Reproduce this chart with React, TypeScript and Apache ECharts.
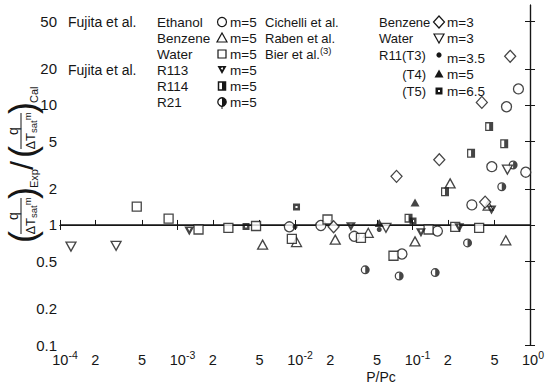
import React, { useEffect, useRef } from 'react';
import * as echarts from 'echarts';

const INK = '#161616';
const FONT = '"Liberation Sans", Arial, Helvetica, sans-serif';

// axis ranges and tick labels
const xRange = [1e-4, 1];
const yRange = [0.1, 68];
const xTickValues = [1e-4, 2e-4, 5e-4, 1e-3, 2e-3, 5e-3, 1e-2, 2e-2, 5e-2, 1e-1, 2e-1, 5e-1, 1];
const xDecadeTicks = [1e-4, 1e-3, 1e-2, 1e-1, 1];
const yTickValues = [0.1, 0.2, 0.5, 1, 2, 5, 10, 20, 50];
const refLine = [[1e-4, 1], [1, 1]];

// Fujita et al.
const ethanol = [[8.95e-3, 0.965], [1.66e-2, 0.99], [3.19e-2, 0.805], [8.13e-2, 0.573], [0.163, 0.89], [0.32, 1.47], [0.473, 3.06], [0.631, 9.66], [0.797, 13.6], [0.92, 2.75]];
const benzeneF = [[5.3e-3, 0.686], [1.03e-2, 0.72], [2.2e-2, 0.755], [4.2e-2, 0.86], [0.105, 0.73], [0.209, 2.22], [0.44, 1.45], [0.622, 0.745]];
const waterF = [[4.5e-4, 1.42], [8.4e-4, 1.13], [1.51e-3, 0.917], [2.71e-3, 0.947], [4.66e-3, 0.98], [9.4e-3, 0.766], [1.89e-2, 1.11], [3.64e-2, 0.78], [6.89e-2, 0.554], [0.137, 0.917], [0.231, 0.965], [0.369, 0.947]];
const r113 = [[1.26e-3, 0.89], [2.99e-2, 0.965], [0.118, 0.86], [0.25, 0.947], [0.47, 1.33]];
const r114 = [[9.25e-2, 1.14], [0.189, 1.89], [0.315, 3.95], [0.449, 6.6], [0.603, 4.75]];
const r21 = [[3.96e-2, 0.423], [7.7e-2, 0.376], [0.156, 0.401], [0.294, 0.709], [0.575, 2.08], [0.718, 3.16]];
// Cichelli et al. / Raben et al. / Bier et al.
const benzeneC = [[2.13e-2, 0.965], [7.31e-2, 2.54], [0.169, 3.5], [0.389, 10.5], [0.415, 1.55], [0.678, 25.4]];
const waterR = [[1.24e-4, 0.66], [3.0e-4, 0.67], [5.94e-2, 0.947], [0.642, 2.89]];
const r11T3 = [[1.0e-2, 0.965], [5.21e-2, 0.917]];
const r11T4 = [[5.21e-2, 1.04], [0.105, 1.54]];
const r11T5 = [[3.83e-3, 0.97], [1.03e-2, 1.41], [0.101, 1.08]];

const L = Math.log10;
const toLog = (pts: number[][]) => pts.map(([x, y]) => [L(x), L(y)]);

const HALF_CIRCLE = 'path://M10,0A10,10,0,1,1,10,20A10,10,0,1,1,10,0ZM10,2.8A7.2,7.2,0,1,0,10,17.2A7.2,7.2,0,1,0,10,2.8ZM10,0A10,10,0,0,1,10,20Z';
const HALF_SQUARE = 'path://M0,0H20V20H0ZM3,3V17H17V3ZM10,0H20V20H10Z';
const DOT_SQUARE = 'path://M0,0H20V20H0ZM7,7V13H13V7Z';
const HEAVY_DOWN = 'path://M0,0H20L10,18ZM7,3L10,9L13,3Z';

const openStyle = { color: '#fff', borderColor: INK, borderWidth: 1.3 };
const solidStyle = { color: INK, borderWidth: 0 };

function scatter(name: string, data: number[][], symbol: string, size: any, style: any, rotate = 0) {
  return {
    name, type: 'scatter', data: toLog(data), symbol, symbolSize: size, symbolRotate: rotate,
    itemStyle: style, z: 3, silent: true,
  };
}

const txt = (text: string, x: number, y: number, size = 13, align = 'left', extra: any = {}) => ({
  type: 'text', x, y, silent: true,
  style: { text, fill: INK, fontSize: size, fontFamily: FONT, textAlign: align, textVerticalAlign: 'middle', ...extra },
});

function legendSym(kind: string, cx: number, cy: number): any[] {
  const open = { fill: '#fff', stroke: INK, lineWidth: 1.2 };
  const solid = { fill: INK };
  switch (kind) {
    case 'circle': return [{ type: 'circle', shape: { cx, cy, r: 4.5 }, style: open }];
    case 'triUp': return [{ type: 'polygon', shape: { points: [[cx - 5, cy + 4], [cx + 5, cy + 4], [cx, cy - 5]] }, style: open }];
    case 'triDown': return [{ type: 'polygon', shape: { points: [[cx - 5, cy - 4], [cx + 5, cy - 4], [cx, cy + 5]] }, style: open }];
    case 'square': return [{ type: 'rect', shape: { x: cx - 4, y: cy - 4, width: 8, height: 8 }, style: open }];
    case 'diamond': return [{ type: 'polygon', shape: { points: [[cx, cy - 6], [cx + 5.5, cy], [cx, cy + 6], [cx - 5.5, cy]] }, style: open }];
    case 'heavyDown': return [
      { type: 'polygon', shape: { points: [[cx - 4.5, cy - 4], [cx + 4.5, cy - 4], [cx, cy + 4]] }, style: solid },
      { type: 'circle', shape: { cx, cy: cy - 1.5, r: 1 }, style: { fill: '#fff' } },
    ];
    case 'halfSquare': return [
      { type: 'rect', shape: { x: cx - 3.5, y: cy - 4, width: 7, height: 8 }, style: { fill: '#fff', stroke: INK, lineWidth: 1.5 } },
      { type: 'rect', shape: { x: cx, y: cy - 4, width: 3.5, height: 8 }, style: solid },
    ];
    case 'halfCircle': return [
      { type: 'circle', shape: { cx, cy, r: 4.2 }, style: { fill: '#fff', stroke: INK, lineWidth: 1.3 } },
      { type: 'sector', shape: { cx, cy, r: 4.2, r0: 0, startAngle: -Math.PI / 2, endAngle: Math.PI / 2, clockwise: true }, style: solid },
      { type: 'line', shape: { x1: cx, y1: cy + 4, x2: cx, y2: cy + 7 }, style: { stroke: INK, lineWidth: 1 } },
    ];
    case 'dot': return [{ type: 'circle', shape: { cx, cy, r: 2.6 }, style: solid }];
    case 'solidTri': return [{ type: 'polygon', shape: { points: [[cx - 4.5, cy + 3.5], [cx + 4.5, cy + 3.5], [cx, cy - 4.5]] }, style: solid }];
    case 'dotSquare': return [
      { type: 'rect', shape: { x: cx - 3.5, y: cy - 3.5, width: 7, height: 7 }, style: solid },
      { type: 'rect', shape: { x: cx - 1, y: cy - 1, width: 2, height: 2 }, style: { fill: '#fff' } },
    ];
  }
  return [];
}

const rows = [22, 38, 54, 70, 86, 102];

function buildGraphic(): any[] {
  const g: any[] = [];
  const FS = 13.5;
  // left legend block
  g.push(txt('Fujita et al.', 68, rows[0], 14));
  g.push(txt('Fujita et al.', 68, rows[3], 14));
  const leftNames = ['Ethanol', 'Benzene', 'Water', 'R113', 'R114', 'R21'];
  const leftSyms = ['circle', 'triUp', 'square', 'heavyDown', 'halfSquare', 'halfCircle'];
  leftNames.forEach((n, i) => {
    g.push(txt(n, 157, rows[i], FS));
    g.push(...legendSym(leftSyms[i], 222, rows[i]));
    g.push(txt('m=5', 230, rows[i], FS));
  });
  // middle authors
  g.push(txt('Cichelli et al.', 265, rows[0], 13));
  g.push(txt('Raben et al.', 265, rows[1], 13));
  g.push(txt('Bier et al.{sup|(3)}', 265, rows[2], 13, 'left', {
    rich: { sup: { fontSize: 9.5, fontFamily: FONT, fill: INK, verticalAlign: 'top', lineHeight: 17 } }, lineHeight: 17,
  }));
  // right block
  const rRows = [22, 38, 55, 74, 91];
  g.push(txt('Benzene', 379, rRows[0], 13));
  g.push(txt('Water', 379, rRows[1], 13));
  g.push(txt('R11(T3)', 379, rRows[2], 13));
  g.push(txt('(T4)', 426, rRows[3], 13, 'right'));
  g.push(txt('(T5)', 426, rRows[4], 13, 'right'));
  const rSyms = ['diamond', 'triDown', 'dot', 'solidTri', 'dotSquare'];
  const rM = ['m=3', 'm=3', 'm=3.5', 'm=5', 'm=6.5'];
  rSyms.forEach((s, i) => {
    g.push(...legendSym(s, 439, rRows[i]));
    g.push(txt(rM[i], 447, rRows[i] + (i === 2 ? 3 : 0), FS));
  });
  // x axis name
  g.push(txt('P/Pc', 381, 377, 14, 'center'));

  // rotated y-axis title
  const den = (cx: number) => ({
    type: 'text', x: cx, y: 9, silent: true,
    style: {
      text: 'ΔT{s|sat}{p|m}', fill: INK, fontSize: 13, fontFamily: FONT, textAlign: 'center', textVerticalAlign: 'middle', lineHeight: 16,
      rich: {
        s: { fontSize: 9.5, fontFamily: FONT, fill: INK, verticalAlign: 'bottom', lineHeight: 16 },
        p: { fontSize: 9.5, fontFamily: FONT, fill: INK, verticalAlign: 'top', lineHeight: 16 },
      },
    },
  });
  const frac = (x0: number, sub: string) => [
    txt('(', x0, 1, 36, 'left'),
    txt('q', x0 + 27, -8, 14, 'center'),
    { type: 'line', silent: true, shape: { x1: x0 + 9, y1: 0, x2: x0 + 45, y2: 0 }, style: { stroke: INK, lineWidth: 1 } },
    den(x0 + 27),
    txt(')', x0 + 44, 1, 36, 'left'),
    txt(sub, x0 + 55, 13, 11, 'left'),
  ];
  g.push({
    type: 'group', x: 21, y: 243, rotation: Math.PI / 2, silent: true,
    children: [
      ...frac(0, 'Exp'),
      txt('/', 73, 1, 32, 'left'),
      ...frac(85, 'Cal'),
    ],
  });
  return g;
}

export default function App() {
  const ref = useRef<HTMLDivElement>(null);
  useEffect(() => {
    if (!ref.current) return;
    const chart = echarts.init(ref.current, null, { renderer: 'svg' });
    const axisLine = { show: true, lineStyle: { color: INK, width: 1.2 } };
    const tickStyle = { color: INK, width: 1 };
    const xFormatter = (v: number) => {
      const r = Math.round(v);
      if (Math.abs(v - r) < 1e-6) return (r < 0 ? '{sp2| }' : '{sp1| }') + '{b|10}{sup|' + r + '}';
      return '{b|' + Math.round(Math.pow(10, v - Math.floor(v + 1e-9))) + '}';
    };
    const yFormatter = (v: number) => {
      const val = Math.pow(10, v);
      return val < 0.95 ? val.toFixed(1) : String(Math.round(val));
    };
    const option: any = {
      animation: false,
      backgroundColor: '#fff',
      grid: { left: 60, right: 16, top: 5, bottom: 41, containLabel: false },
      xAxis: [
        {
          type: 'value', min: L(xRange[0]), max: L(xRange[1]), position: 'bottom',
          axisLine, splitLine: { show: false },
          axisTick: { show: true, inside: true, length: 5, lineStyle: tickStyle, customValues: xTickValues.map(L) },
          axisLabel: {
            show: true, margin: 4, color: INK, fontFamily: FONT, fontSize: 14,
            customValues: xTickValues.map(L), formatter: xFormatter,
            rich: {
              b: { fontSize: 14.5, fontFamily: FONT, color: INK, lineHeight: 18, verticalAlign: 'bottom' },
              sup: { fontSize: 10.5, fontFamily: FONT, color: INK, lineHeight: 18, verticalAlign: 'top' },
              sp1: { width: 6, fontSize: 10, lineHeight: 18 },
              sp2: { width: 10, fontSize: 10, lineHeight: 18 },
            },
          },
        },
        {
          type: 'value', min: L(xRange[0]), max: L(xRange[1]), position: 'top',
          axisLine, splitLine: { show: false }, axisLabel: { show: false },
          axisTick: { show: true, inside: true, length: 5, lineStyle: tickStyle, customValues: xDecadeTicks.map(L) },
        },
      ],
      yAxis: [
        {
          type: 'value', min: L(yRange[0]), max: L(yRange[1]), position: 'left',
          axisLine, splitLine: { show: false },
          axisTick: { show: true, inside: true, length: 5, lineStyle: tickStyle, customValues: yTickValues.map(L) },
          axisLabel: {
            show: true, margin: 3, color: INK, fontFamily: FONT, fontSize: 15,
            customValues: yTickValues.map(L), formatter: yFormatter,
          },
        },
        {
          type: 'value', min: L(yRange[0]), max: L(yRange[1]), position: 'right',
          axisLine, splitLine: { show: false }, axisLabel: { show: false },
          axisTick: { show: true, inside: true, length: 5, lineStyle: tickStyle, customValues: yTickValues.map(L) },
        },
      ],
      series: [
        {
          name: 'ref', type: 'line', data: toLog(refLine), symbol: 'none', silent: true, z: 1,
          lineStyle: { color: INK, width: 1.3 },
        },
        scatter('Ethanol', ethanol, 'circle', 10, openStyle),
        scatter('Benzene (Fujita)', benzeneF, 'triangle', [10, 9], openStyle),
        scatter('Water (Fujita)', waterF, 'rect', 9, openStyle),
        scatter('R113', r113, HEAVY_DOWN, [10, 9], solidStyle),
        scatter('R114', r114, HALF_SQUARE, [8, 9], solidStyle),
        scatter('R21', r21, HALF_CIRCLE, 9, solidStyle),
        scatter('Benzene (Cichelli)', benzeneC, 'diamond', [11, 12], openStyle),
        scatter('Water (Raben)', waterR, 'triangle', [10, 9], openStyle, 180),
        scatter('R11 (T3)', r11T3, 'circle', 5, solidStyle),
        scatter('R11 (T4)', r11T4, 'triangle', [9, 8], solidStyle),
        scatter('R11 (T5)', r11T5, DOT_SQUARE, 7, solidStyle),
      ],
      graphic: buildGraphic(),
    };
    chart.setOption(option);
    return () => chart.dispose();
  }, []);
  return <div ref={ref} style={{ position: 'fixed', left: 0, top: 0, width: 547, height: 386, background: '#fff' }} />;
}
